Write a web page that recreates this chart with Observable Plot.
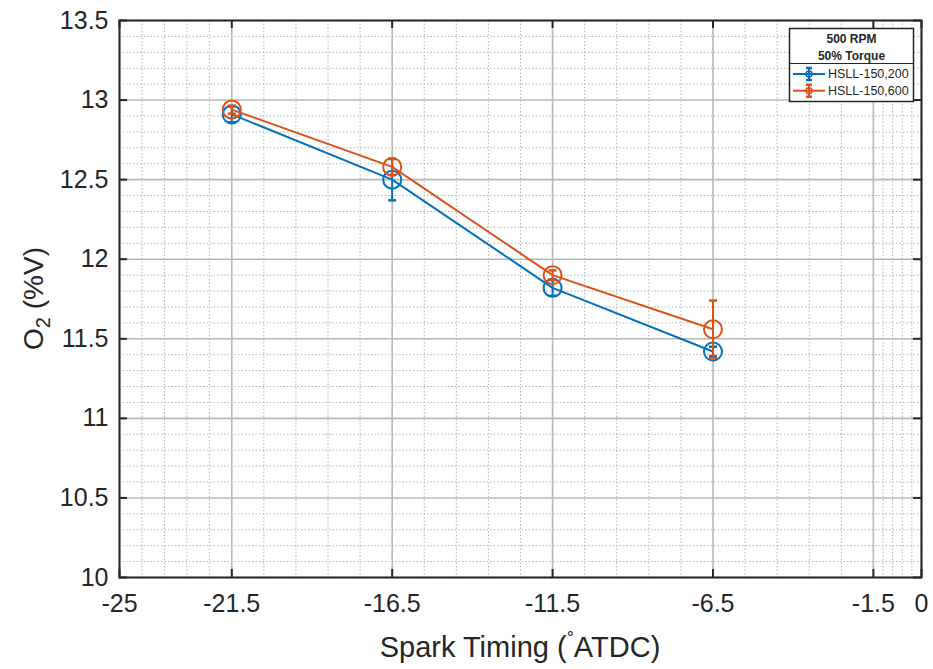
<!DOCTYPE html>
<html><head><meta charset="utf-8">
<script src="https://cdn.jsdelivr.net/npm/d3@7"></script>
<script src="https://cdn.jsdelivr.net/npm/@observablehq/plot@0.6"></script>
<style>body{margin:0;background:#fff;} svg{display:block}</style>
</head><body><div id="chart"></div>
<script>
// ---- data ----
const sparkTiming = [-21.5, -16.5, -11.5, -6.5];
const seriesNames = ["HSLL-150,200", "HSLL-150,600"];
const o2_150_200 = [12.91, 12.50, 11.82, 11.42];
const err_150_200 = [0.05, 0.13, 0.05, 0.03];
const o2_150_600 = [12.94, 12.58, 11.90, 11.56];
const err_150_600 = [0.025, 0.05, 0.03, 0.18];
const seriesColors = ["#0072BD", "#D95319"];

const xTicks = [-25, -21.5, -16.5, -11.5, -6.5, -1.5, 0];
const xTickLabels = ["-25", "-21.5", "-16.5", "-11.5", "-6.5", "-1.5", "0"];
const xMinor = [-24.3, -23.6, -22.9, -22.2, -20.5, -19.5, -18.5, -17.5, -15.5, -14.5, -13.5, -12.5,
  -10.5, -9.5, -8.5, -7.5, -5.5, -4.5, -3.5, -2.5, -1.2, -0.9, -0.6, -0.3];
const yTicks = [10, 10.5, 11, 11.5, 12, 12.5, 13, 13.5];
const yTickLabels = ["10", "10.5", "11", "11.5", "12", "12.5", "13", "13.5"];
const yMinor = [10.1, 10.2, 10.3, 10.4, 10.6, 10.7, 10.8, 10.9, 11.1, 11.2, 11.3, 11.4, 11.6, 11.7, 11.8, 11.9,
  12.1, 12.2, 12.3, 12.4, 12.6, 12.7, 12.8, 12.9, 13.1, 13.2, 13.3, 13.4];
const legendTitle = ["500 RPM", "50% Torque"];
const xLabel = ["Spark Timing (", "°", "ATDC)"];
const yLabel = ["O", "2", " (%V)"];

// ---- build table ----
const rows = [];
[[o2_150_200, err_150_200], [o2_150_600, err_150_600]].forEach(([vals, errs], s) => {
  sparkTiming.forEach((x, i) => rows.push({series: seriesNames[s], x, y: vals[i], e: errs[i]}));
});

const xDom = [-25, 0], yDom = [10, 13.5];
const W = 933, H = 669, mL = 119, mR = 12, mT = 20, mB = 92;
const tickPx = 8;
const tx = tickPx * (xDom[1] - xDom[0]) / (W - mL - mR);
const ty = tickPx * (yDom[1] - yDom[0]) / (H - mT - mB);

const capSymbol = {draw(ctx, size) { const w = Math.sqrt(size) / 2; ctx.moveTo(-w, 0); ctx.lineTo(w, 0); }};

const seriesMarks = seriesNames.flatMap(name => {
  const d = rows.filter(r => r.series === name);
  return [
    Plot.line(d, {x: "x", y: "y", stroke: "series", strokeWidth: 2}),
    Plot.ruleX(d, {x: "x", y1: r => r.y - r.e, y2: r => r.y + r.e, stroke: "series", strokeWidth: 2}),
    Plot.dot(d, {x: "x", y: r => r.y + r.e, symbol: capSymbol, r: 4.5, stroke: "series", strokeWidth: 2.5}),
    Plot.dot(d, {x: "x", y: r => r.y - r.e, symbol: capSymbol, r: 4.5, stroke: "series", strokeWidth: 2.5}),
    Plot.dot(d, {x: "x", y: "y", r: 9, stroke: "series", strokeWidth: 2, fill: "none"})
  ];
});

const ink = "#262626";
const chart = Plot.plot({
  width: W, height: H,
  marginLeft: mL, marginRight: mR, marginTop: mT, marginBottom: mB,
  style: {fontFamily: "'Liberation Sans', Arial, sans-serif", background: "#fff"},
  x: {domain: xDom},
  y: {domain: yDom},
  color: {domain: seriesNames, range: seriesColors},
  marks: [
    Plot.ruleX(xMinor, {x: d => d, stroke: "#b4b4b4", strokeWidth: 1, strokeDasharray: "1.5,2"}),
    Plot.ruleY(yMinor, {y: d => d, stroke: "#b4b4b4", strokeWidth: 1, strokeDasharray: "1.5,2"}),
    Plot.ruleX(xTicks, {x: d => d, stroke: "#b8b8b8", strokeWidth: 1.6}),
    Plot.ruleY(yTicks, {y: d => d, stroke: "#b8b8b8", strokeWidth: 1.6}),
    ...seriesMarks,
    Plot.ruleX(xTicks, {x: d => d, y1: yDom[0], y2: yDom[0] + ty, stroke: ink, strokeWidth: 2}),
    Plot.ruleX(xTicks, {x: d => d, y1: yDom[1], y2: yDom[1] - ty, stroke: ink, strokeWidth: 2}),
    Plot.ruleY(yTicks, {y: d => d, x1: xDom[0], x2: xDom[0] + tx, stroke: ink, strokeWidth: 2}),
    Plot.ruleY(yTicks, {y: d => d, x1: xDom[1], x2: xDom[1] - tx, stroke: ink, strokeWidth: 2}),
    Plot.frame({stroke: ink, strokeWidth: 2}),
    Plot.axisX({ticks: xTicks, tickFormat: d => xTickLabels[xTicks.indexOf(d)], tickSize: 0, tickPadding: 17,
      fontSize: 25, fill: ink, label: null}),
    Plot.axisY({ticks: yTicks, tickFormat: d => yTickLabels[yTicks.indexOf(d)], tickSize: 0, tickPadding: 11,
      fontSize: 25, fill: ink, label: null})
  ]
});
document.getElementById("chart").appendChild(chart);

// ---- axis labels & legend ----
const svg = d3.select(chart);
const font = "'Liberation Sans', Arial, sans-serif";
const xl = svg.append("text").attr("x", (mL + W - mR) / 2).attr("y", 657).attr("text-anchor", "middle")
  .attr("font-family", font).attr("font-size", 29).attr("fill", ink);
xl.append("tspan").text(xLabel[0]);
xl.append("tspan").attr("font-size", 18).attr("dy", -13).text(xLabel[1]);
xl.append("tspan").attr("dy", 13).text(xLabel[2]);

const yl = svg.append("text").attr("transform", `translate(43,${(mT + H - mB) / 2}) rotate(-90)`)
  .attr("text-anchor", "middle").attr("font-family", font).attr("font-size", 28).attr("fill", ink);
yl.append("tspan").text(yLabel[0]);
yl.append("tspan").attr("font-size", 20).attr("dy", 7).text(yLabel[1]);
yl.append("tspan").attr("dy", -7).text(yLabel[2]);

const lg = svg.append("g").attr("font-family", font).attr("fill", ink).attr("text-anchor", "start");
const bx = 789.5, by = 28.5, bw = 124, bh = 73;
lg.append("rect").attr("x", bx).attr("y", by).attr("width", bw).attr("height", bh)
  .attr("fill", "#fff").attr("stroke", ink).attr("stroke-width", 1.5);
lg.append("line").attr("x1", bx).attr("x2", bx + bw).attr("y1", 63.5).attr("y2", 63.5)
  .attr("stroke", ink).attr("stroke-width", 1.2);
legendTitle.forEach((t, i) => lg.append("text").attr("x", bx + bw / 2).attr("y", 43 + i * 17)
  .attr("text-anchor", "middle").attr("font-size", 12).attr("font-weight", "bold").text(t));
seriesNames.forEach((name, i) => {
  const cy = 74 + i * 16.7, c = seriesColors[i];
  const g = lg.append("g");
  g.append("line").attr("x1", 793).attr("x2", 825).attr("y1", cy).attr("y2", cy).attr("stroke", c).attr("stroke-width", 2);
  g.append("line").attr("x1", 809).attr("x2", 809).attr("y1", cy - 6).attr("y2", cy + 6).attr("stroke", c).attr("stroke-width", 2);
  [-6, 6].forEach(o => g.append("line").attr("x1", 806).attr("x2", 812).attr("y1", cy + o).attr("y2", cy + o).attr("stroke", c).attr("stroke-width", 2.5));
  g.append("circle").attr("cx", 809).attr("cy", cy).attr("r", 3).attr("fill", "none").attr("stroke", c).attr("stroke-width", 1.5);
  g.append("text").attr("x", 828).attr("y", cy).attr("dy", "0.35em").attr("text-anchor", "start").attr("font-size", 12.5).text(name);
});
</script></body></html>
